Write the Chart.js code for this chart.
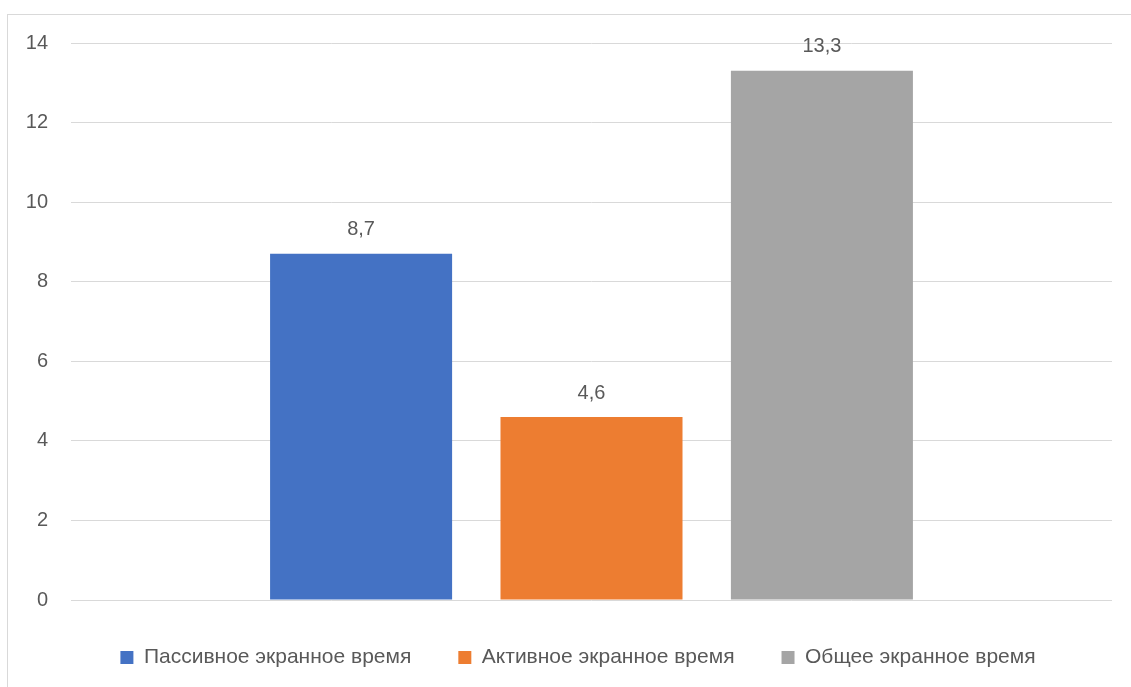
<!DOCTYPE html>
<html>
<head>
<meta charset="utf-8">
<script src="https://cdn.jsdelivr.net/npm/chart.js@4/dist/chart.umd.min.js"></script>
<style>
  html, body { margin: 0; padding: 0; background: #fff; }
  body { width: 1131px; height: 687px; position: relative; overflow: hidden; }
  #frame { position: absolute; left: 7px; top: 14px; width: 1200px; height: 800px;
           border-left: 1px solid #d9d9d9; border-top: 1px solid #d9d9d9; }
  #wrap { position: absolute; left: 0; top: 0; width: 1131px; height: 687px; }
</style>
</head>
<body>
<div id="frame"></div>
<div id="wrap"><canvas id="c" width="1131" height="687"></canvas></div>
<script>
const categories = [''];
const seriesNames = ['Пассивное экранное время', 'Активное экранное время', 'Общее экранное время'];
const seriesValues = [[8.7], [4.6], [13.3]];
const seriesColors = ['#4472C4', '#ED7D31', '#A5A5A5'];
const yTicks = [0, 2, 4, 6, 8, 10, 12, 14];

const FONT = "'Liberation Sans', Arial, sans-serif";
const TEXT = '#595959';

const labelPlugin = {
  id: 'barLabels',
  afterDatasetsDraw(chart) {
    const ctx = chart.ctx;
    ctx.save();
    ctx.font = '20px ' + FONT;
    ctx.fillStyle = TEXT;
    ctx.textAlign = 'center';
    ctx.textBaseline = 'bottom';
    chart.data.datasets.forEach((ds, i) => {
      const meta = chart.getDatasetMeta(i);
      meta.data.forEach((bar, j) => {
        const v = ds.data[j];
        ctx.fillText(String(v).replace('.', ','), bar.x, bar.y - 14);
      });
    });
    ctx.restore();
  }
};

const legendShift = {
  id: 'legendShift',
  afterLayout(chart) {
    if (chart.legend) { chart.legend.left += 22; chart.legend.right += 22; }
  }
};

new Chart(document.getElementById('c'), {
  type: 'bar',
  data: {
    labels: categories,
    datasets: seriesNames.map((n, i) => ({
      label: n,
      data: seriesValues[i],
      backgroundColor: seriesColors[i],
      borderWidth: 0,
      categoryPercentage: 0.664,
      barPercentage: 0.79
    }))
  },
  options: {
    responsive: false,
    animation: false,
    layout: { padding: { left: 0, right: 19, top: 43, bottom: 9 } },
    plugins: {
      tooltip: { enabled: false },
      legend: {
        position: 'bottom',
        labels: {
          color: TEXT,
          font: { family: FONT, size: 21 },
          boxWidth: 13,
          boxHeight: 13,
          padding: 47
        }
      }
    },
    scales: {
      x: { display: false },
      y: {
        min: 0, max: 14,
        afterFit(s) { s.width = 71; },
        afterBuildTicks(s) { s.ticks = yTicks.map(v => ({ value: v })); },
        border: { display: false },
        grid: { color: '#d9d9d9', lineWidth: 1, drawTicks: false },
        ticks: { color: TEXT, font: { family: FONT, size: 20 }, padding: 23 }
      }
    }
  },
  plugins: [labelPlugin, legendShift]
});
</script>
</body>
</html>
